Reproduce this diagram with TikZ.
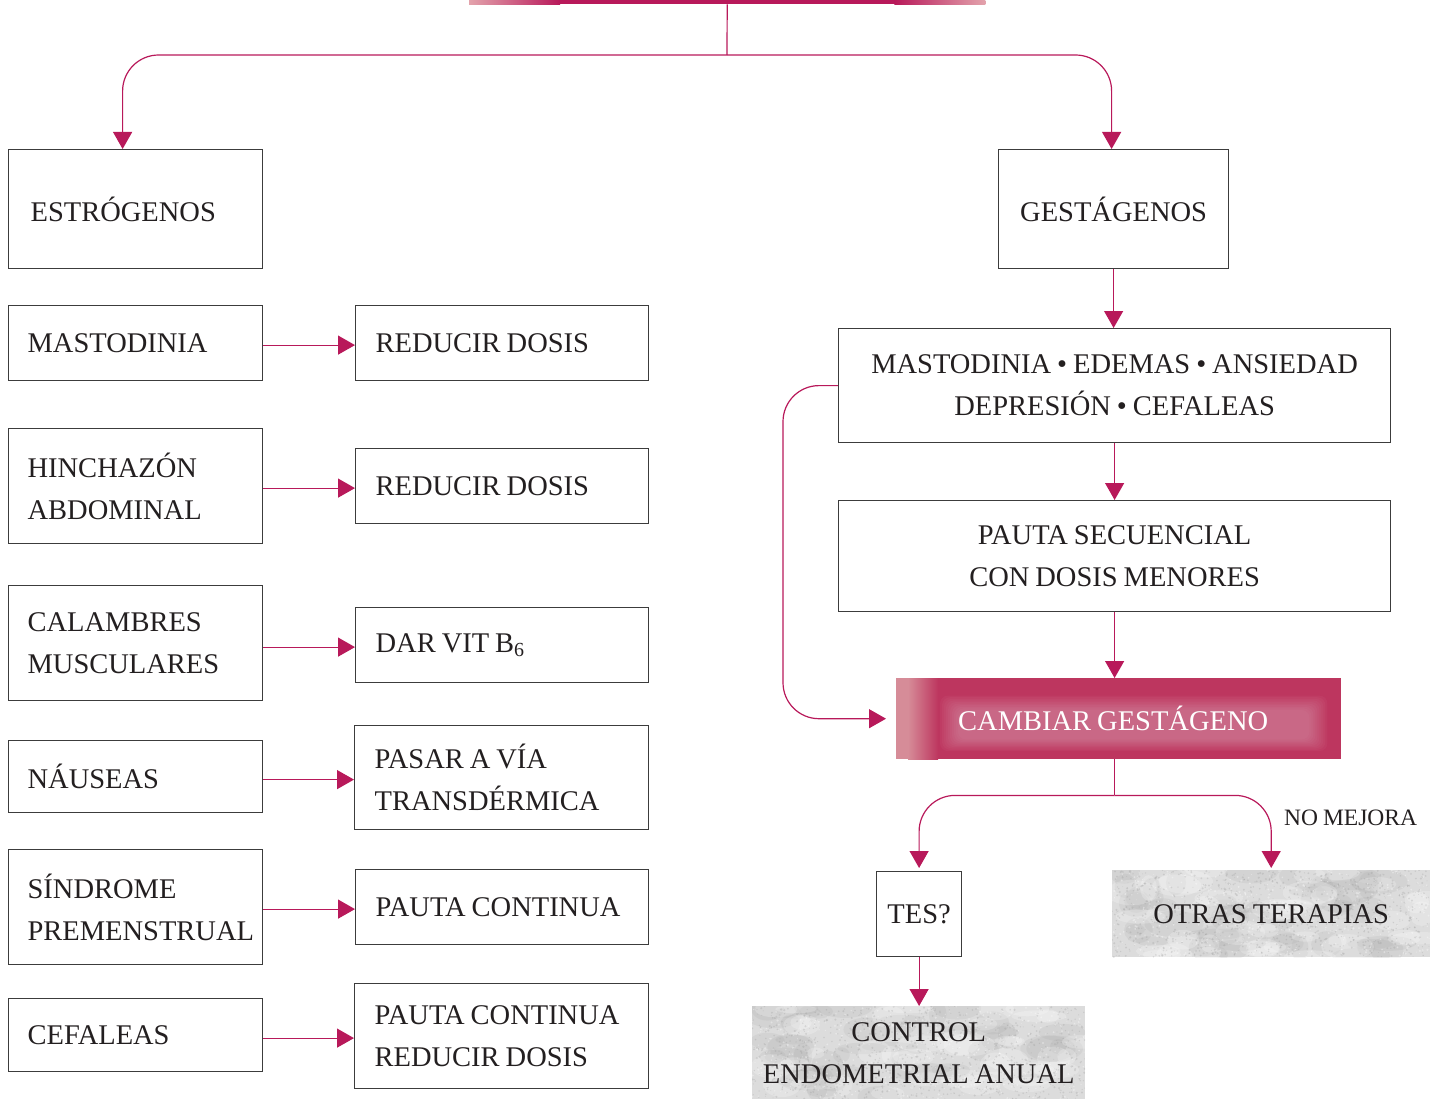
\documentclass[tikz,border=0pt]{standalone}
\usepackage{fontspec}
\setmainfont{Liberation Serif}
\usetikzlibrary{arrows.meta,calc,backgrounds}
\definecolor{crim}{HTML}{B8195A}
\definecolor{boxline}{HTML}{3C3C3C}
\definecolor{ink}{HTML}{231F20}
\definecolor{cmag}{HTML}{BD365F}
\definecolor{cpale}{HTML}{D68C98}
\definecolor{barpale}{HTML}{E3A3AC}
\definecolor{grainbase}{HTML}{DCDCDC}
\definecolor{grainspeck}{HTML}{8A8A8A}

\tikzset{
  every node/.style={text=ink, font=\fontsize{28.5}{42}\selectfont,
    execute at begin node={\spaceskip=0.21em\relax}},
  box/.style={draw=boxline, line width=1.2pt, inner ysep=0pt, anchor=north west},
  lbox/.style={box, align=left, inner xsep=19pt},
  cbox/.style={box, align=center, inner xsep=0pt},
  plain/.style={inner ysep=0pt, inner xsep=0pt, anchor=north west, align=center},
  conn/.style={draw=crim, line width=1.2pt, -{Triangle[length=17pt,width=19pt]}},
  link/.style={draw=crim, line width=1.2pt},
  curvy/.style={rounded corners=36pt},
}

% mottled grey paper fill for a w x h area whose top-left corner is the given anchor
\newcommand{\grainfill}[3]{%
  \begin{scope}[shift={(#1)}]
    \clip (0,0) rectangle (#2,#3);
    \fill[grainbase] (0,0) rectangle (#2,#3);
    \foreach \k in {1,...,45}
      \fill[grainspeck, opacity=0.10] ({rnd*#2},{rnd*#3})
        ellipse[x radius={8pt+22pt*rnd}, y radius={4pt+10pt*rnd}];
    \foreach \k in {1,...,40}
      \fill[white, opacity=0.22] ({rnd*#2},{rnd*#3})
        ellipse[x radius={8pt+20pt*rnd}, y radius={4pt+9pt*rnd}];
    \foreach \k in {1,...,1100}
      \fill[grainspeck, opacity=0.22] ({rnd*#2},{rnd*#3})
        circle[radius={0.4pt+0.8pt*rnd}];
    \foreach \k in {1,...,500}
      \fill[white, opacity=0.35] ({rnd*#2},{rnd*#3})
        circle[radius={0.4pt+0.8pt*rnd}];
  \end{scope}}

\begin{document}
\begin{tikzpicture}[x=1pt, y=-1pt]
\pgfmathsetseed{12}
\useasboundingbox (0,0) rectangle (1442,1099);

% title bar and main fork
\node[inner sep=0pt, minimum width=516pt, minimum height=4pt, anchor=north west] (bar) at (469,0) {};
\coordinate (fork) at (727,55);

% left column: estrogen side effects
\node[lbox, text width=210pt, inner xsep=22pt, minimum height=119pt] (estr) at (8,149) {ESTRÓGENOS};
\node[lbox, text width=216pt, minimum height=75pt]  (mast)  at (8,305) {MASTODINIA};
\node[lbox, text width=216pt, minimum height=115pt] (hinch) at (8,428) {HINCHAZÓN\\ABDOMINAL};
\node[lbox, text width=216pt, minimum height=115pt] (calam) at (8,585) {CALAMBRES\\MUSCULARES};
\node[lbox, text width=216pt, minimum height=72pt]  (naus)  at (8,740) {NÁUSEAS};
\node[lbox, text width=216pt, minimum height=115pt] (sind)  at (8,849) {SÍNDROME\\PREMENSTRUAL};
\node[lbox, text width=216pt, minimum height=73pt]  (cefa)  at (8,998) {CEFALEAS};

% left column: measures
\node[lbox, text width=253pt, inner xsep=20pt, minimum height=75pt]  (red1)  at (355,305) {REDUCIR DOSIS};
\node[lbox, text width=253pt, inner xsep=20pt, minimum height=75pt]  (red2)  at (355,448) {REDUCIR DOSIS};
\node[lbox, text width=253pt, inner xsep=20pt, minimum height=75pt]  (vit)   at (355,607) {DAR VIT B\textsubscript{6}};
\node[lbox, text width=254pt, inner xsep=20pt, minimum height=104pt] (pasar) at (354,725) {PASAR A VÍA\\TRANSDÉRMICA};
\node[lbox, text width=253pt, inner xsep=20pt, minimum height=75pt]  (pcont) at (355,869) {PAUTA CONTINUA};
\node[lbox, text width=254pt, inner xsep=20pt, minimum height=105pt] (pcred) at (354,983) {PAUTA CONTINUA\\REDUCIR DOSIS};

% right column: gestagen branch
\node[cbox, text width=230pt, minimum height=119pt] (gest) at (998,149) {GESTÁGENOS};
\node[cbox, text width=552pt, minimum height=114pt] (sympt) at (838,328)
  {MASTODINIA • EDEMAS • ANSIEDAD\\DEPRESIÓN • CEFALEAS};
\node[cbox, text width=552pt, minimum height=111pt] (pseq) at (838,500)
  {PAUTA SECUENCIAL\\CON DOSIS MENORES};
\node[plain, text width=445pt, minimum height=81pt, text=white] (camb) at (896,678)
  {\hspace*{-11pt}CAMBIAR GESTÁGENO};
\node[cbox, text width=85pt, minimum height=85pt] (tes) at (876,871) {TES?};
\node[plain, text width=333pt, minimum height=93pt] (ctrl) at (752,1006) {CONTROL\\ENDOMETRIAL ANUAL};
\node[plain, text width=318pt, minimum height=87pt] (otras) at (1112,870) {OTRAS TERAPIAS};
\node[anchor=west, inner sep=0pt, font=\fontsize{23.5}{28}\selectfont] (nomej) at (1284,818) {NO MEJORA};
\coordinate (fork2) at ($(pseq.south |- camb.south)+(0,36)$);

% connectors
\draw[link] (bar.south) -- (fork);
\draw[conn, curvy] (fork) -| ([xshift=-13pt]estr.north);
\draw[conn, curvy] (fork) -| ([xshift=-2pt]gest.north);

\foreach \a/\b in {mast/red1, hinch/red2, calam/vit, naus/pasar, sind/pcont, cefa/pcred}
  \draw[conn] ([yshift=-2pt]\b.west -| \a.east) -- ([yshift=-2pt]\b.west);

\draw[conn] (gest.south) -- (gest.south |- sympt.north);
\draw[conn] (sympt.south) -- (sympt.south |- pseq.north);
\draw[conn] (pseq.south) -- (pseq.south |- camb.north);
\draw[conn, curvy, shorten >=10pt] (sympt.west) -- ++(-55,0) |- (camb.west);
\draw[link] (pseq.south |- camb.south) -- (fork2);
\draw[conn, curvy, shorten >=3pt] (fork2) -| (tes.north);
\draw[conn, curvy, shorten >=2pt] (fork2) -| (otras.north);
\draw[conn] (tes.south) -- (tes.south |- ctrl.north);

\begin{pgfonlayer}{background}
  % title bar with faded ends
  \fill[crim] ([xshift=90pt]bar.north west) rectangle ([xshift=-90pt]bar.south east);
  \shade[left color=barpale, right color=crim] (bar.north west) rectangle ([xshift=91pt]bar.south west);
  \shade[left color=crim, right color=barpale] ([xshift=-91pt]bar.north east) rectangle (bar.south east);
  % highlighted action box with soft inner glow
  \fill[cmag] (camb.north west) rectangle (camb.south east);
  \fill[cpale] (camb.north west) rectangle ([xshift=12pt]camb.south west);
  \shade[left color=cpale, right color=cmag] ([xshift=12pt]camb.north west) rectangle ([xshift=42pt]camb.south west);
  \foreach \i in {0,...,9}
    \fill[white, opacity=0.03, rounded corners=8pt]
      ([xshift={62pt-2pt*\i}, yshift={-32pt+1.6pt*\i}]camb.north west) rectangle
      ([xshift={-32pt+2pt*\i}, yshift={20pt-1.3pt*\i}]camb.south east);
  % textured panels
  \grainfill{otras.north west}{318}{87}
  \grainfill{ctrl.north west}{333}{93}
\end{pgfonlayer}
\end{tikzpicture}
\end{document}
